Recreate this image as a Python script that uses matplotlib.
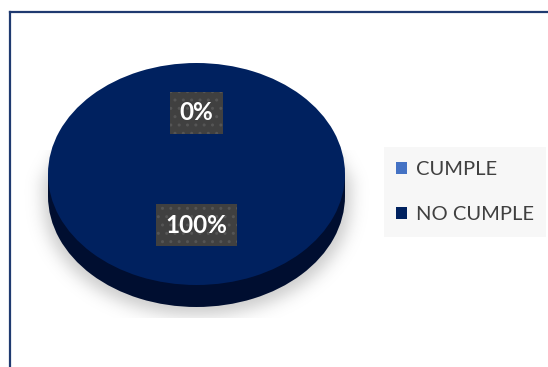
import numpy as np
import matplotlib
matplotlib.use("Agg")
import matplotlib.pyplot as plt
from matplotlib.patches import Rectangle, Patch
from matplotlib.lines import Line2D

# ---- data ----
categories = ["CUMPLE", "NO CUMPLE"]
values = [0, 100]
top_colors = ["#4472C4", "#00215F"]
side_colors = ["#2F5597", "#000E30"]

W, H, DPI = 548, 367, 100
fig = plt.figure(figsize=(W / DPI, H / DPI), dpi=DPI)
fig.patch.set_facecolor("white")

# background axes in pixel coordinates (frame lines, shadow, legend panel)
bg = fig.add_axes([0, 0, 1, 1])
bg.set_xlim(0, W)
bg.set_ylim(H, 0)
bg.axis("off")

# chart frame (top and left edges visible)
bg.add_line(Line2D([10, W], [12, 12], color="#1F3A70", lw=1.6))
bg.add_line(Line2D([10, 10], [12, H], color="#1F3A70", lw=1.6))

# soft drop shadow under the pie, clipped to the plot area
yy, xx = np.mgrid[0:H, 0:W].astype(float)
cx, cy, rx, ry, thick = 196.5, 174.0, 148.5, 111.0, 22.0
sil = (((xx - cx) / (rx + 5)) ** 2 + ((yy - cy - thick - 6) / (ry + 2)) ** 2 <= 1) | \
      ((np.abs(xx - cx) <= rx + 5) & (yy >= cy + 2) & (yy <= cy + thick + 6))
sil = sil.astype(float)

def blur(a, s):
    k = np.arange(-3 * int(s), 3 * int(s) + 1)
    g = np.exp(-k ** 2 / (2 * s ** 2))
    g /= g.sum()
    a = np.apply_along_axis(lambda r: np.convolve(r, g, mode="same"), 1, a)
    a = np.apply_along_axis(lambda c: np.convolve(c, g, mode="same"), 0, a)
    return a

sh = blur(sil, 8.0)
sh[yy > 317] = 0
sh[yy < 150] = 0
rgba = np.zeros((H, W, 4))
rgba[..., :3] = 0.55
rgba[..., 3] = sh * 0.45
bg.imshow(rgba, extent=(0, W, H, 0), interpolation="bilinear", zorder=1)

# legend panel
bg.add_patch(Rectangle((384, 147), 162, 90, facecolor="#F7F7F7", edgecolor="none", zorder=1))

# ---- 3D-looking pie ----
t = thick / ry
ax = fig.add_axes([48 / W, (H - 307) / H, 297 / W, 244 / H])
ax.set_zorder(2)
ax.patch.set_alpha(0)

# side of the disc
ax.pie(values, colors=side_colors, radius=1, center=(0, -t), startangle=90,
       counterclock=False, wedgeprops=dict(linewidth=0, zorder=1))
ax.add_patch(Rectangle((-1, -t), 2, t, facecolor=side_colors[1], edgecolor="none", zorder=1))
# top face
wedges, _ = ax.pie(values, colors=top_colors, radius=1, center=(0, 0), startangle=90,
                   counterclock=False, wedgeprops=dict(linewidth=0, zorder=2))
ax.set_aspect("auto")
ax.set_xlim(-1, 1)
ax.set_ylim(-1 - t, 1)
ax.axis("off")

# percentage labels placed along each slice's mid angle
total = sum(values)
label_r = [0.55, 0.46]
for w, v, r in zip(wedges, values, label_r):
    ang = np.deg2rad((w.theta1 + w.theta2) / 2)
    ax.text(r * np.cos(ang), r * np.sin(ang), f"{v / total * 100:.0f}%",
            ha="center", va="center", color="white", fontsize=17.5,
            fontweight="bold", family="Lato", zorder=5,
            bbox=dict(boxstyle="square,pad=0.38", facecolor="#404040",
                      edgecolor="#555555", linewidth=0, hatch=".."))

# legend
fs = 14.5
handles = [Patch(facecolor=c, edgecolor="none") for c in top_colors]
leg = fig.legend(handles, categories, loc="center left",
                 bbox_to_anchor=(396 / W, 1 - 192 / H), frameon=False,
                 borderpad=0, borderaxespad=0,
                 handlelength=0.55, handleheight=0.55, handletextpad=0.45,
                 labelspacing=1.4, prop=dict(family="Lato", size=fs))
for txt in leg.get_texts():
    txt.set_color("#404040")

fig.savefig("out.png", dpi=DPI)
